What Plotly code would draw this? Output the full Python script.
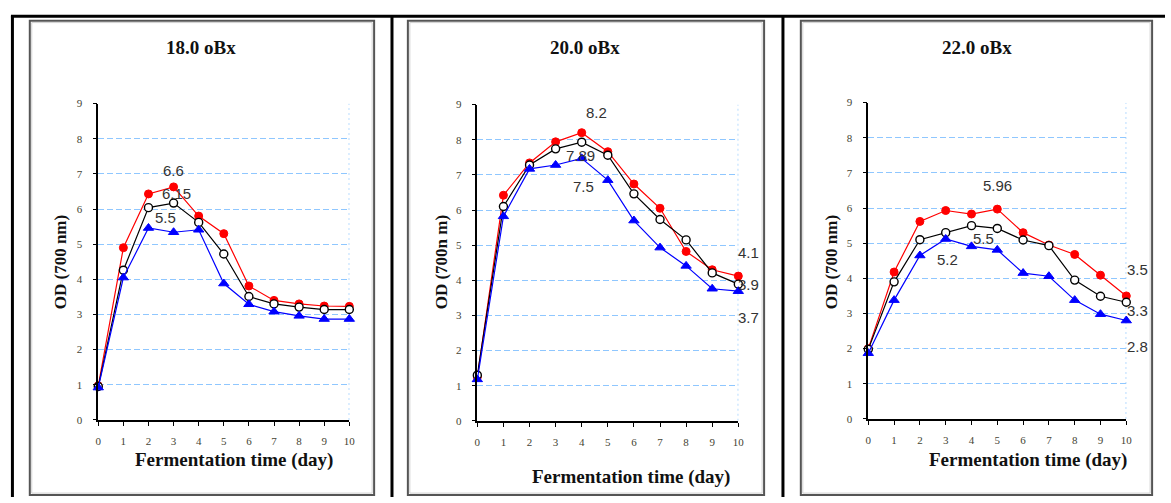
import plotly.graph_objects as go

W, H = 1171, 503

days = list(range(11))
x_ticks = list(range(11))
y_ticks = list(range(10))

titles = ["18.0 oBx", "20.0 oBx", "22.0 oBx"]
x_title = "Fermentation time (day)"
y_titles = ["OD (700 nm)", "OD (700n m)", "OD (700 nm)"]

# 18.0 oBx
od18_red = [0.97, 4.9, 6.43, 6.63, 5.8, 5.3, 3.81, 3.4, 3.3, 3.24, 3.23]
od18_black = [0.95, 4.26, 6.04, 6.17, 5.62, 4.72, 3.51, 3.3, 3.21, 3.14, 3.14]
od18_blue = [0.92, 4.05, 5.46, 5.34, 5.41, 3.88, 3.29, 3.08, 2.96, 2.87, 2.87]

# 20.0 oBx
od20_red = [1.25, 6.42, 7.34, 7.94, 8.2, 7.66, 6.74, 6.05, 4.82, 4.3, 4.12]
od20_black = [1.3, 6.1, 7.28, 7.74, 7.93, 7.56, 6.46, 5.73, 5.15, 4.21, 3.89]
od20_blue = [1.18, 5.82, 7.17, 7.28, 7.47, 6.85, 5.7, 4.93, 4.41, 3.76, 3.69]

# 22.0 oBx
od22_red = [2.0, 4.18, 5.62, 5.93, 5.83, 5.97, 5.3, 4.95, 4.68, 4.09, 3.5]
od22_black = [1.98, 3.9, 5.1, 5.3, 5.5, 5.42, 5.09, 4.93, 3.95, 3.49, 3.32]
od22_blue = [1.87, 3.38, 4.65, 5.12, 4.91, 4.81, 4.15, 4.06, 3.38, 2.98, 2.8]

# value labels: (text, series index 0=red 1=black 2=blue, day)
labels18 = [("6.6", 0, 3), ("6.15", 1, 3), ("5.5", 2, 2)]
labels20 = [("8.2", 0, 4), ("7.89", 1, 4), ("7.5", 2, 4),
            ("4.1", 0, 10), ("3.9", 1, 10), ("3.7", 2, 10)]
labels22 = [("5.96", 0, 5), ("5.5", 1, 4), ("5.2", 2, 3),
            ("3.5", 0, 10), ("3.3", 1, 10), ("2.8", 2, 10)]

panels = [
    dict(series=[od18_red, od18_black, od18_blue], labels=labels18,
         ax=(96, 349, 100, 424), frame=(27, 374), title_x=200, xt=(233, 465), yt_x=58,
         shifts=[(0, 16), (3, 10), (17, 11)]),
    dict(series=[od20_red, od20_black, od20_blue], labels=labels20,
         ax=(478, 741, 101, 425), frame=(408, 767), title_x=587, xt=(633, 483), yt_x=442,
         shifts=[(15, 20), (-1, -13), (2, -28), (10, 24), (10, 0), (10, -26)]),
    dict(series=[od22_red, od22_black, od22_blue], labels=labels22,
         ax=(872, 1132, 99, 423), frame=(804, 1158), title_x=982, xt=(1033, 465), yt_x=835,
         shifts=[(0, 24), (12, -13), (2, -21), (11, 26), (11, -8), (11, -26)]),
]

styles = [
    dict(line=dict(color="#ff0000", width=1.2),
         marker=dict(symbol="circle", size=8, color="#ff0000", line=dict(color="#ff0000", width=1))),
    dict(line=dict(color="#000000", width=1.2),
         marker=dict(symbol="circle", size=8, color="#ffffff", line=dict(color="#000000", width=1.4))),
    dict(line=dict(color="#0000ff", width=1.2),
         marker=dict(symbol="triangle-up", size=9, color="#0000ff", line=dict(color="#0000ff", width=1))),
]

def px(x):
    return x / W

def py(y):
    return 1 - y / H

fig = go.Figure()
shapes = []
annotations = []
serif = "Liberation Serif"
sans = "Liberation Sans"

# table-like black borders
shapes.append(dict(type="line", xref="paper", yref="paper", x0=px(8), x1=px(1171), y0=py(10.5), y1=py(10.5),
                   line=dict(color="black", width=3)))
for vx in [9.5, 392, 786]:
    shapes.append(dict(type="line", xref="paper", yref="paper", x0=px(vx), x1=px(vx), y0=py(10), y1=py(503),
                       line=dict(color="black", width=3)))

for i, p in enumerate(panels):
    n = "" if i == 0 else str(i + 1)
    xa, ya = "x" + n, "y" + n
    x0, x1, y0, y1 = p["ax"]
    fl, fr = p["frame"]
    # image frame
    shapes.append(dict(type="rect", xref="paper", yref="paper", x0=px(fl), x1=px(fr), y0=py(501), y1=py(15),
                       line=dict(color="#555555", width=2), layer="below"))
    shapes.append(dict(type="rect", xref="paper", yref="paper", x0=px(fl + 2), x1=px(fr - 2), y0=py(499), y1=py(17),
                       line=dict(color="#d0d0d0", width=1), layer="below"))
    # right dotted border of plot area
    shapes.append(dict(type="line", xref=xa, yref=ya, x0=10, x1=10, y0=0, y1=9,
                       line=dict(color="#8fc7ff", width=1.3, dash="2px,3px"), layer="below"))

    for s, st in zip(p["series"], styles):
        fig.add_trace(go.Scatter(x=days, y=s, mode="lines+markers", line=st["line"], marker=st["marker"],
                                 xaxis=xa, yaxis=ya, showlegend=False, cliponaxis=False))

    axis_common = dict(showline=True, linecolor="black", linewidth=1.5, ticks="outside", ticklen=4,
                       tickcolor="black", tickwidth=1, zeroline=False,
                       tickfont=dict(family=serif, size=11, color="#444433"), fixedrange=True)
    fig.update_layout(**{
        ("xaxis" + n): dict(domain=[px(x0), px(x1)], range=[0, 10], tickvals=x_ticks, showgrid=False,
                            anchor=ya, ticklabelstandoff=6, **axis_common),
        ("yaxis" + n): dict(domain=[py(y1), py(y0)], range=[0, 9], tickvals=y_ticks, showgrid=True,
                            gridcolor="#8fc7ff", griddash="6px,3px", gridwidth=1.3, anchor=xa,
                            ticklabelstandoff=8, **axis_common),
    })

    # value labels
    for (txt, si, d), (dx, dy) in zip(p["labels"], p["shifts"]):
        annotations.append(dict(x=d, y=p["series"][si][d], xref=xa, yref=ya, text=txt, showarrow=False,
                                xshift=dx, yshift=dy, xanchor="center", yanchor="middle",
                                font=dict(family=sans, size=15, color="#333333")))
    # titles
    common = dict(xref="paper", yref="paper", showarrow=False, xanchor="center", yanchor="middle")
    annotations.append(dict(x=px(p["title_x"]), y=py(43), text="<b>%s</b>" % titles[i],
                            font=dict(family=serif, size=19, color="#111111"), **common))
    annotations.append(dict(x=px(p["xt"][0]), y=py(p["xt"][1]), text="<b>%s</b>" % x_title,
                            font=dict(family=serif, size=19, color="#111111"), **common))
    annotations.append(dict(x=px(p["yt_x"]), y=py(263), text="<b>%s</b>" % y_titles[i], textangle=-90,
                            font=dict(family=serif, size=17, color="#111111"), **common))

fig.update_layout(width=W, height=H, margin=dict(l=0, r=0, t=0, b=0), paper_bgcolor="white",
                  plot_bgcolor="white", shapes=shapes, annotations=annotations)

post = """
var de = document.documentElement, b = document.body;
de.style.margin = '0'; de.style.padding = '0';
b.style.margin = '0'; b.style.padding = '0'; b.style.overflow = 'hidden';
"""

fig.write_html("out.html", config={"displayModeBar": False}, post_script=post)
